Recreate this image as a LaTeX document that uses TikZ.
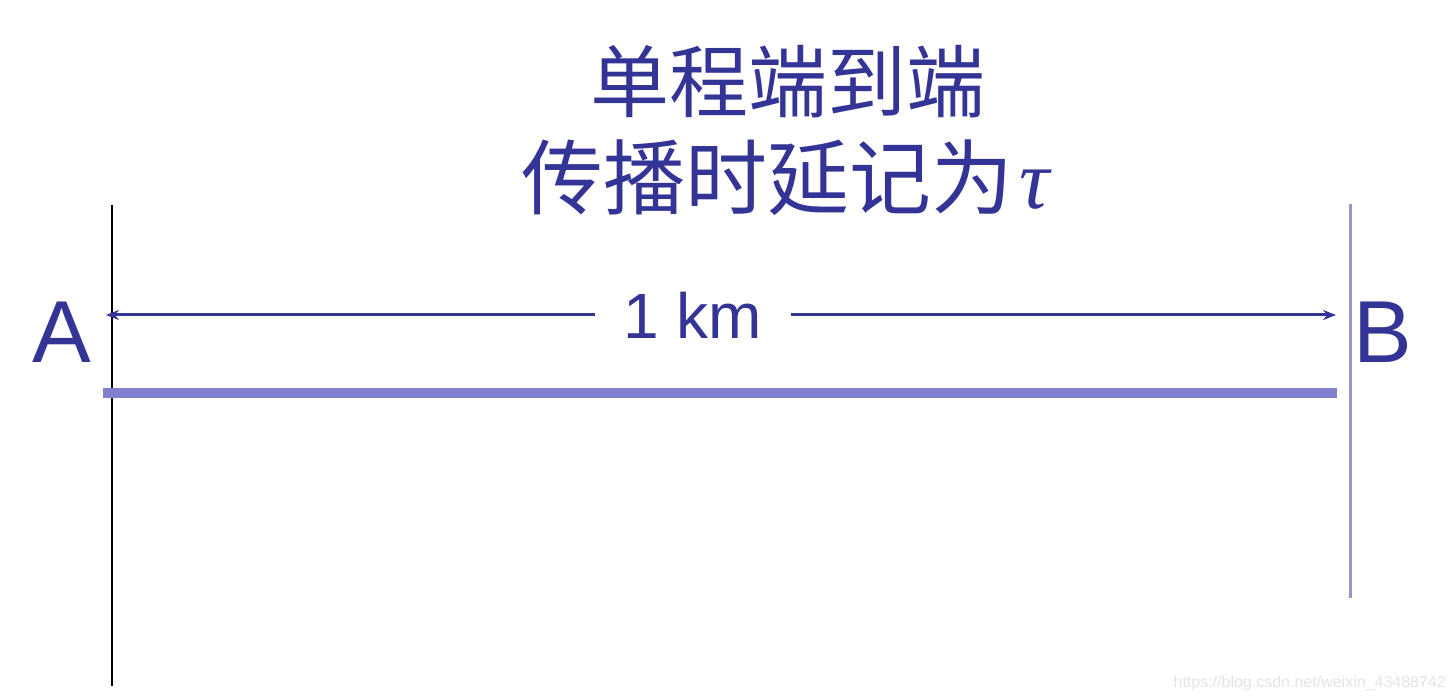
\documentclass[tikz,border=0pt]{standalone}
\usepackage{fontspec}
\setmainfont{Liberation Sans}
\newfontfamily\cjk{Noto Sans CJK SC}
\newfontfamily\serifit{Liberation Serif}
\usetikzlibrary{arrows.meta}
\definecolor{txtblue}{RGB}{52,52,150}
\definecolor{barblue}{RGB}{128,128,205}
\definecolor{blineblue}{RGB}{150,150,200}
\definecolor{wm}{RGB}{228,228,228}
\tikzset{
  lbl/.style={text=txtblue, font=\fontsize{88}{88}\selectfont, inner sep=0pt},
  ttl/.style={text=txtblue, font=\cjk\fontsize{79}{79}\selectfont, inner sep=0pt},
  dist/.style={draw=txtblue, line width=3pt, -{Stealth[length=13pt,width=10pt]}},
}
\begin{document}
\begin{tikzpicture}[x=1pt,y=-1pt]
\useasboundingbox[fill=white] (0,0) rectangle (1454,700);
% title
\node[ttl] (t1) at (788,82) {单程端到端};
\node[ttl, font=\cjk\fontsize{82}{82}\selectfont] (t2) at (786,178) {传播时延记为\hspace{6pt}{\serifit\itshape\fontsize{84}{84}\selectfont τ}};
% vertical lines
\coordinate (a1) at (112,205);
\coordinate (a2) at (112,686);
\coordinate (b1) at (1350,204);
\coordinate (b2) at (1350,598);
\draw[black, line width=2pt] (a1) -- (a2);
\draw[blineblue, line width=3pt] (b1) -- (b2);
% thick bar
\coordinate (c1) at (103,393);
\coordinate (c2) at (1337,393);
\draw[barblue, line width=10pt] (c1) -- (c2);
% labels
\node[lbl] (A) at (62,332) {A};
\node[lbl] (B) at (1383,332) {B};
% distance arrow
\node[text=txtblue, font=\fontsize{64}{64}\selectfont, inner sep=0pt, minimum width=196pt, minimum height=50pt] (km) at (693,315) {1 km};
\coordinate (d1) at (106,315);
\coordinate (d2) at (1336,315);
\draw[dist] (km.west) -- (d1);
\draw[dist] (km.east) -- (d2);
% watermark
\node[text=wm, font=\fontsize{16}{16}\selectfont, anchor=east, inner sep=0pt] (w) at (1446,683) {https://blog.csdn.net/weixin\_43488742};
\end{tikzpicture}
\end{document}
